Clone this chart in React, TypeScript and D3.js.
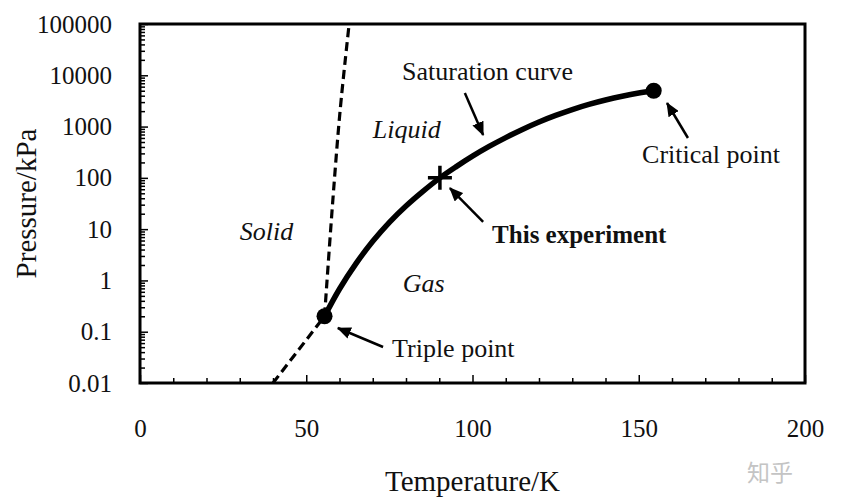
import React, { useEffect, useRef } from "react";
import * as d3 from "d3";

// oxygen phase diagram
const satT = [55.5, 60, 65, 70, 75, 80, 85, 90.2, 95, 100, 105, 110, 115, 120, 125, 130, 135, 140, 145, 150, 154.5];
const satP = [0.2, 0.68, 2.15, 5.8, 13.6, 28.3, 54, 100, 164, 265, 410, 610, 880, 1230, 1650, 2150, 2710, 3300, 3910, 4510, 5000];
const meltT = [55.5, 58, 60.2, 62.9];
const meltP = [0.2, 37, 2100, 100000];
const subT = [40, 55.5];
const subP = [0.01, 0.2];

const triple = [55.5, 0.2];
const critical = [154.5, 5000];
const experiment = [90.2, 100];

const xMajor = [0, 50, 100, 150, 200];
const yMajor = [0.01, 0.1, 1, 10, 100, 1000, 10000, 100000];

// text labels: [T, P, text, style]
const labels: [number, number, string, string][] = [
  [78.8, 8100, "Saturation curve", "normal"],
  [70, 600, "Liquid", "italic"],
  [30, 6.1, "Solid", "italic"],
  [79, 0.59, "Gas", "italic"],
  [75.8, 0.032, "Triple point", "normal"],
  [151, 195, "Critical point", "normal"],
  [105.9, 5.4, "This experiment", "bold"],
];

// arrows: tail T, tail P, head T, head P
const arrows = [
  [97.7, 4520, 103.2, 685],
  [164.8, 599, 158.5, 2880],
  [103.2, 13.8, 93.2, 63.4],
  [73.1, 0.0504, 59.5, 0.118],
];

const W = 850;
const H = 503;
const left = 140, right = 805, top = 24, bottom = 383;
const FONT = "'Liberation Serif', 'Times New Roman', serif";

export default function App() {
  const ref = useRef<SVGSVGElement>(null);

  useEffect(() => {
    const svg = d3.select(ref.current);
    svg.selectAll("*").remove();

    const x = d3.scaleLinear().domain([0, 200]).range([left, right]);
    const y = d3.scaleLog().domain([0.01, 100000]).range([bottom, top]);

    svg.append("defs").append("marker")
      .attr("id", "head")
      .attr("markerUnits", "userSpaceOnUse")
      .attr("markerWidth", 14).attr("markerHeight", 12)
      .attr("viewBox", "0 0 14 12")
      .attr("refX", 13).attr("refY", 6)
      .attr("orient", "auto")
      .append("path").attr("d", "M0,0 L14,6 L0,12 Z").attr("fill", "#000");

    // x axis
    const xMinor = d3.range(0, 201, 10).filter(d => d % 50 !== 0);
    const xg = svg.append("g").attr("transform", `translate(0,${bottom})`);
    xg.call(d3.axisBottom(x).tickValues(xMajor).tickSize(-8).tickPadding(36).tickFormat(d3.format("d")));
    xg.append("g").call(d3.axisBottom(x).tickValues(xMinor).tickSize(-5).tickFormat(() => ""));
    xg.selectAll(".domain").remove();

    // y axis
    const yMinor: number[] = [];
    yMajor.slice(0, -1).forEach(d => { for (let k = 2; k <= 9; k++) yMinor.push(d * k); });
    const yg = svg.append("g").attr("transform", `translate(${left},0)`);
    yg.call(d3.axisLeft(y).tickValues(yMajor).tickSize(-8).tickPadding(28).tickFormat(d => String(d)));
    yg.append("g").call(d3.axisLeft(y).tickValues(yMinor).tickSize(-5).tickFormat(() => ""));
    yg.selectAll(".domain").remove();

    svg.selectAll(".tick line").attr("stroke", "#000").attr("stroke-width", 1.5);
    svg.selectAll(".tick text")
      .attr("font-family", FONT).attr("font-size", 25).attr("fill", "#111");

    // frame
    svg.append("rect")
      .attr("x", left).attr("y", top)
      .attr("width", right - left).attr("height", bottom - top)
      .attr("fill", "none").attr("stroke", "#000").attr("stroke-width", 3);

    const line = d3.line<number[]>()
      .x(d => x(d[0])).y(d => y(d[1]))
      .curve(d3.curveCatmullRom.alpha(0.5));

    svg.append("path").datum(meltT.map((t, i) => [t, meltP[i]]))
      .attr("d", line).attr("fill", "none").attr("stroke", "#000")
      .attr("stroke-width", 3.2).attr("stroke-dasharray", "9,5");
    svg.append("path").datum(subT.map((t, i) => [t, subP[i]]))
      .attr("d", line).attr("fill", "none").attr("stroke", "#000")
      .attr("stroke-width", 3.2).attr("stroke-dasharray", "9,5");
    svg.append("path").datum(satT.map((t, i) => [t, satP[i]]))
      .attr("d", line).attr("fill", "none").attr("stroke", "#000")
      .attr("stroke-width", 5.5).attr("stroke-linecap", "round");

    svg.selectAll("circle.pt").data([triple, critical]).enter()
      .append("circle").attr("class", "pt")
      .attr("cx", d => x(d[0])).attr("cy", d => y(d[1]))
      .attr("r", 8).attr("fill", "#000");

    const ex = x(experiment[0]), ey = y(experiment[1]);
    svg.append("path")
      .attr("d", `M${ex - 12},${ey} H${ex + 12} M${ex},${ey - 12} V${ey + 12}`)
      .attr("stroke", "#000").attr("stroke-width", 3.5);

    svg.selectAll("line.arrow").data(arrows).enter()
      .append("line").attr("class", "arrow")
      .attr("x1", d => x(d[0])).attr("y1", d => y(d[1]))
      .attr("x2", d => x(d[2])).attr("y2", d => y(d[3]))
      .attr("stroke", "#000").attr("stroke-width", 2.5)
      .attr("marker-end", "url(#head)");

    svg.selectAll("text.lab").data(labels).enter()
      .append("text").attr("class", "lab")
      .attr("x", d => x(d[0])).attr("y", d => y(d[1]))
      .attr("font-family", FONT)
      .attr("font-size", d => d[3] === "bold" ? 25 : 26)
      .attr("font-style", d => d[3] === "italic" ? "italic" : "normal")
      .attr("font-weight", d => d[3] === "bold" ? "bold" : "normal")
      .attr("fill", "#111")
      .text(d => d[2]);

    // axis titles
    svg.append("text")
      .attr("x", (left + right) / 2).attr("y", 491)
      .attr("text-anchor", "middle")
      .attr("font-family", FONT).attr("font-size", 29).attr("fill", "#111")
      .text("Temperature/K");
    svg.append("text")
      .attr("transform", `translate(36,${(top + bottom) / 2}) rotate(-90)`)
      .attr("text-anchor", "middle")
      .attr("font-family", FONT).attr("font-size", 29).attr("fill", "#111")
      .text("Pressure/kPa");

    // watermark
    svg.append("text")
      .attr("x", 747).attr("y", 481)
      .attr("font-family", "'Noto Sans CJK SC', sans-serif")
      .attr("font-size", 23).attr("fill", "#c4c4c4")
      .text("知乎");
  }, []);

  return (
    <svg ref={ref} width={W} height={H}
      style={{ position: "absolute", left: 0, top: 0, background: "#fff" }} />
  );
}
